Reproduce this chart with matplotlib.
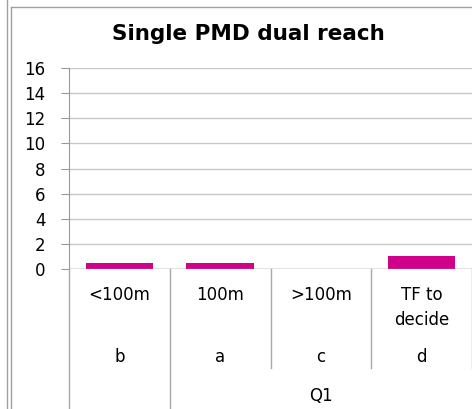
import matplotlib.pyplot as plt
from matplotlib.lines import Line2D
from matplotlib.transforms import blended_transform_factory

categories = ["<100m", "100m", ">100m", "TF to\ndecide"]
codes = ["b", "a", "c", "d"]
values = [0.5, 0.5, 0, 1]
group_label = "Q1"
yticks = [0, 2, 4, 6, 8, 10, 12, 14, 16]

W, H = 472, 409
plt.rcParams["font.family"] = ["DejaVu Sans"]
fig = plt.figure(figsize=(W / 100, H / 100), dpi=100)
ax = fig.add_axes([69 / W, (H - 269) / H, (W - 69) / W, 201 / H])

x = list(range(len(categories)))
ax.bar(x, values, width=0.67, color="#D1008A", zorder=3)
ax.set_xlim(-0.5, len(categories) - 0.5)
ax.set_ylim(0, 16)
ax.set_yticks(yticks)
ax.set_yticklabels([str(t) for t in yticks], fontsize=12)
ax.tick_params(axis="y", length=5.8, color="#999999", pad=11)
ax.set_xticks([])
ax.grid(axis="y", color="#c8c8c8", lw=1, zorder=0)
for s in ["top", "right", "bottom"]:
    ax.spines[s].set_visible(False)
ax.spines["left"].set_color("#999999")
ax.axhline(0, color="#999999", lw=1, zorder=4)

fy = lambda py: (H - py) / H
tr = blended_transform_factory(ax.transData, fig.transFigure)

# category labels and separators
for i, (c, k) in enumerate(zip(categories, codes)):
    ax.text(i, fy(286), c, transform=tr, ha="center", va="top", fontsize=12, linespacing=1.5)
    ax.text(i, fy(357), k, transform=tr, ha="center", va="center", fontsize=12)
for xs, bottom in [(-0.5, H), (0.5, H), (1.5, 368), (2.5, 368), (3.5, 368)]:
    fig.add_artist(Line2D([xs, xs], [fy(269), fy(bottom)], transform=tr, color="#a8a8a8", lw=1))
ax.text(2.0, fy(396), group_label, transform=tr, ha="center", va="center", fontsize=12)

fig.text(248 / W, fy(34), "Single PMD dual reach", ha="center", va="center",
         fontsize=15.5, fontweight="bold")

# outer chart border
fig.add_artist(Line2D([7 / W, 7 / W], [0, 1], transform=fig.transFigure, color="#a0a0a0", lw=1))
fig.add_artist(Line2D([11 / W, 11 / W], [0, fy(7)], transform=fig.transFigure, color="#a0a0a0", lw=1))
fig.add_artist(Line2D([11 / W, 1], [fy(7), fy(7)], transform=fig.transFigure, color="#a0a0a0", lw=1))

fig.savefig("out.png", dpi=100)
